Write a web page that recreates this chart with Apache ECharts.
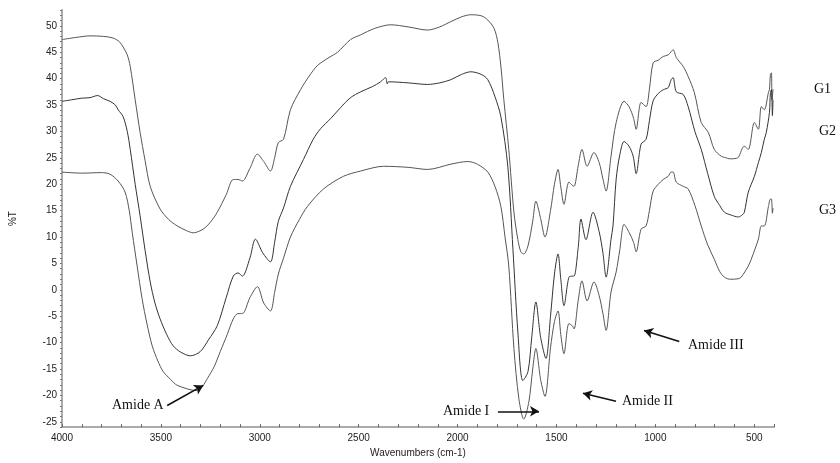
<!DOCTYPE html>
<html>
<head>
<meta charset="utf-8">
<script src="https://cdn.jsdelivr.net/npm/echarts@6/dist/echarts.min.js"></script>
<style>
  html, body { margin: 0; padding: 0; background: #fff; }
  #main { width: 840px; height: 463px; }
</style>
</head>
<body>
<div id="main"></div>
<script>
// wavenumber (cm-1), %T
var g1 = [[4000,47.4],[3930,47.8],[3858,48.1],[3790,48.0],[3742,47.7],[3710,47.0],[3691,46.0],[3670,44.5],[3655,42.3],[3630,36],[3605,29.8],[3580,24.5],[3554,19.6],[3504,15.3],[3460,13.3],[3417,12.1],[3370,11.2],[3336,10.8],[3286,11.5],[3250,12.8],[3215,14.7],[3170,18],[3134,20.9],[3110,20.9],[3088,20.6],[3050,23],[3012,25.7],[2980,24.3],[2946,22.5],[2925,25],[2906,27.9],[2880,28.5],[2845,34.1],[2794,37.9],[2750,40.5],[2708,42.5],[2650,44],[2607,45],[2541,47.4],[2490,48.3],[2420,49.5],[2338,50.2],[2250,49.8],[2151,49.2],[2090,49.8],[2034,50.8],[1980,51.7],[1933,52.1],[1880,51.9],[1847,51.1],[1815,49.5],[1796,46.8],[1780,42],[1766,36],[1741,26.6],[1715,14.7],[1695,9.5],[1680,7.2],[1665,6.8],[1644,8.3],[1620,13],[1604,16.8],[1580,13.5],[1558,10.0],[1530,15],[1510,20],[1492,22.8],[1478,19.5],[1462,16.2],[1437,20.4],[1420,19.8],[1411,19.6],[1390,23.5],[1371,26.6],[1345,23.4],[1310,26.0],[1284,24.1],[1265,21],[1249,18.7],[1224,25.3],[1198,31.7],[1158,35.7],[1133,34.7],[1110,32.5],[1097,30.4],[1072,35.5],[1047,34.7],[1030,38],[1011,43.0],[985,43.5],[960,44.2],[935,44.5],[920,45.1],[910,45.5],[894,44.0],[859,42.3],[834,40.4],[803,37.4],[768,31.7],[732,29.8],[702,26.6],[667,25.3],[651,25.1],[620,24.8],[591,24.9],[580,25.1],[550,27.2],[530,26.6],[499,31.7],[479,30.4],[464,34.7],[449,34.1],[428,37.4],[423,37.9],[418,40.8],[413,41.1],[410,36],[405,38]];

var g2 = [[4000,35.7],[3950,36.0],[3900,36.3],[3858,36.4],[3820,36.8],[3790,36.2],[3757,35.7],[3730,35.0],[3716,34.1],[3691,32.8],[3670,30],[3655,26.6],[3630,20],[3605,14.0],[3580,7.5],[3554,1.5],[3530,-2.5],[3504,-5.5],[3470,-8.5],[3438,-10.6],[3400,-11.8],[3351,-12.5],[3301,-11.7],[3260,-9.5],[3215,-6.8],[3170,-1.5],[3134,2.6],[3110,3.2],[3088,2.6],[3050,6],[3022,9.6],[2985,7],[2946,5.3],[2925,9],[2906,13.0],[2880,15.5],[2845,19.6],[2779,24.7],[2730,28.5],[2693,30.5],[2640,32.5],[2592,34.5],[2541,36.4],[2490,37.5],[2430,38.5],[2389,39.4],[2364,40.2],[2355,39.0],[2349,39.4],[2250,39.2],[2151,38.9],[2090,39.2],[2034,39.8],[1980,40.8],[1933,41.3],[1880,40.8],[1847,39.8],[1810,36.5],[1781,32.8],[1746,23.4],[1720,7.7],[1695,-8.0],[1670,-17.2],[1644,-15.5],[1625,-9],[1604,-2.3],[1580,-9],[1553,-13.0],[1530,-5],[1510,3],[1492,6.8],[1478,2],[1462,-3.0],[1437,2.4],[1420,2.6],[1411,2.6],[1390,8],[1376,13.4],[1351,9.5],[1315,14.7],[1284,11],[1265,7],[1249,2.4],[1224,9.6],[1214,12.1],[1198,21],[1180,25.5],[1158,28.1],[1133,27.2],[1112,25.3],[1097,22],[1072,27.6],[1047,28.5],[1030,32],[1011,35.8],[985,37.2],[960,37.9],[935,38.3],[920,39.8],[910,40.2],[894,37.5],[859,37.0],[834,34.7],[800,30],[768,26.6],[735,22],[702,17.7],[675,16],[651,14.7],[620,14.2],[580,13.8],[560,14.2],[550,14.7],[530,18.5],[499,21.5],[479,24.1],[464,26.0],[449,28.5],[439,29.8],[423,33.6],[418,37.4],[413,37.9],[408,33],[405,36]];

var g3 = [[4000,22.3],[3900,22.1],[3800,22.2],[3757,21.9],[3716,20.6],[3681,18.5],[3660,15],[3645,10.9],[3620,4.5],[3595,-1.7],[3570,-6.5],[3544,-10.6],[3515,-13.5],[3488,-15.5],[3450,-17],[3417,-18.1],[3316,-19.1],[3290,-18.3],[3265,-16.8],[3230,-14.5],[3200,-11.7],[3165,-8.5],[3134,-5.5],[3110,-4.5],[3088,-4.5],[3050,-1.5],[3012,0.6],[2980,-2.5],[2946,-4.0],[2925,-0.5],[2906,3.0],[2880,6],[2845,10.0],[2800,13.3],[2759,15.8],[2678,19.1],[2577,21.5],[2490,22.5],[2374,23.4],[2250,23.2],[2151,22.8],[2034,23.8],[1948,24.3],[1900,23.8],[1847,22.3],[1810,19.5],[1781,15.8],[1760,10],[1741,4.5],[1715,-11.1],[1690,-20.6],[1665,-24.5],[1639,-21.1],[1620,-15],[1604,-11.1],[1580,-17],[1558,-20.2],[1530,-11],[1510,-6],[1492,-4.0],[1478,-8.5],[1462,-12.1],[1437,-6.4],[1420,-6.8],[1411,-7.4],[1390,-2],[1371,1.7],[1345,-2.1],[1310,1.5],[1284,-1.1],[1265,-4.5],[1249,-7.7],[1224,-0.4],[1198,3.4],[1180,7.5],[1158,12.4],[1133,10.9],[1110,9],[1097,7.2],[1072,11.5],[1047,12.1],[1030,15],[1011,18.7],[985,20],[960,20.9],[935,21.5],[920,22.3],[910,22.3],[894,20.4],[859,19.6],[834,19.1],[800,16],[768,12.1],[735,8.5],[702,5.8],[675,3.5],[651,2.4],[620,2.0],[580,2.1],[566,2.4],[530,4.5],[515,5.8],[479,9.6],[464,12.1],[449,12.1],[428,15.8],[418,17.2],[413,17.2],[408,14.5],[405,15.5]];

var xLabels = [4000, 3500, 3000, 2500, 2000, 1500, 1000, 500];
var yLabels = [-25, -20, -15, -10, -5, 0, 5, 10, 15, 20, 25, 30, 35, 40, 45, 50];
var xTicks = [];
for (var t = 400; t <= 4000; t += 100) xTicks.push(t);
var yTicks = [];
for (var v = -26; v <= 53; v += 1) yTicks.push(v);

// arrows: [from, to] in data coords
var arrows = [
  [[3468, -21.9], [3286, -18.1]],
  [[1796, -23.0], [1588, -23.0]],
  [[1199, -21.1], [1366, -19.6]],
  [[879, -9.8], [1057, -7.7]]
];

var myChart = echarts.init(document.getElementById('main'))

function lineSeries(name, data, color) {
  return {
    name: name,
    type: 'line',
    data: data,
    showSymbol: false,
    smooth: 0.3,
    lineStyle: { color: color, width: 1 },
    silent: true
  }
}

var serif = '"Liberation Serif", "DejaVu Serif", serif'

var series = [
  lineSeries('G1', g1, '#555'),
  lineSeries('G2', g2, '#333'),
  lineSeries('G3', g3, '#555')
]
series[2].markLine = {
  silent: true,
  symbolSize: [8, 9],
  label: { show: false },
  lineStyle: { color: '#111', width: 1.6, type: 'solid' },
  data: arrows.map(function (a) {
    return [{ coord: a[0], symbol: 'none' }, { coord: a[1], symbol: 'arrow' }]
  })
}

var option = {
  animation: false,
  grid: { left: 62, right: 66, top: 10, bottom: 35 },
  xAxis: {
    type: 'value',
    inverse: true,
    min: 400,
    max: 4000,
    name: 'Wavenumbers (cm-1)',
    nameLocation: 'middle',
    nameGap: 20,
    nameTextStyle: { fontFamily: 'Liberation Sans', fontSize: 10, color: '#222' },
    axisLine: { onZero: false, lineStyle: { color: '#aaa', width: 2 } },
    axisTick: { customValues: xTicks, inside: true, length: 3, lineStyle: { color: '#666' } },
    axisLabel: {
      customValues: xLabels,
      formatter: function (val) { return String(val) },
      fontFamily: 'Liberation Sans', fontSize: 10, color: '#222', margin: 6
    },
    splitLine: { show: false }
  },
  yAxis: {
    type: 'value',
    min: -26,
    max: 53,
    name: '%T',
    nameLocation: 'middle',
    nameGap: 44,
    nameTextStyle: { fontFamily: 'Liberation Sans', fontSize: 10, color: '#222' },
    axisLine: { show: true, onZero: false, lineStyle: { color: '#aaa', width: 2 } },
    axisTick: { customValues: yTicks, length: 2, lineStyle: { color: '#777' } },
    axisLabel: { customValues: yLabels, fontFamily: 'Liberation Sans', fontSize: 10, color: '#222', margin: 5 },
    splitLine: { show: false }
  },
  graphic: [
    { type: 'text', left: 112, top: 398, style: { text: 'Amide A', font: '14px ' + serif, fill: '#111' } },
    { type: 'text', left: 443, top: 404, style: { text: 'Amide I', font: '14px ' + serif, fill: '#111' } },
    { type: 'text', left: 622, top: 394, style: { text: 'Amide II', font: '14px ' + serif, fill: '#111' } },
    { type: 'text', left: 688, top: 338, style: { text: 'Amide III', font: '14px ' + serif, fill: '#111' } },
    { type: 'text', left: 814, top: 82, style: { text: 'G1', font: '14px ' + serif, fill: '#111' } },
    { type: 'text', left: 819, top: 124, style: { text: 'G2', font: '14px ' + serif, fill: '#111' } },
    { type: 'text', left: 819, top: 203, style: { text: 'G3', font: '14px ' + serif, fill: '#111' } }
  ],
  series: series
}
myChart.setOption(option)
</script>
</body>
</html>
